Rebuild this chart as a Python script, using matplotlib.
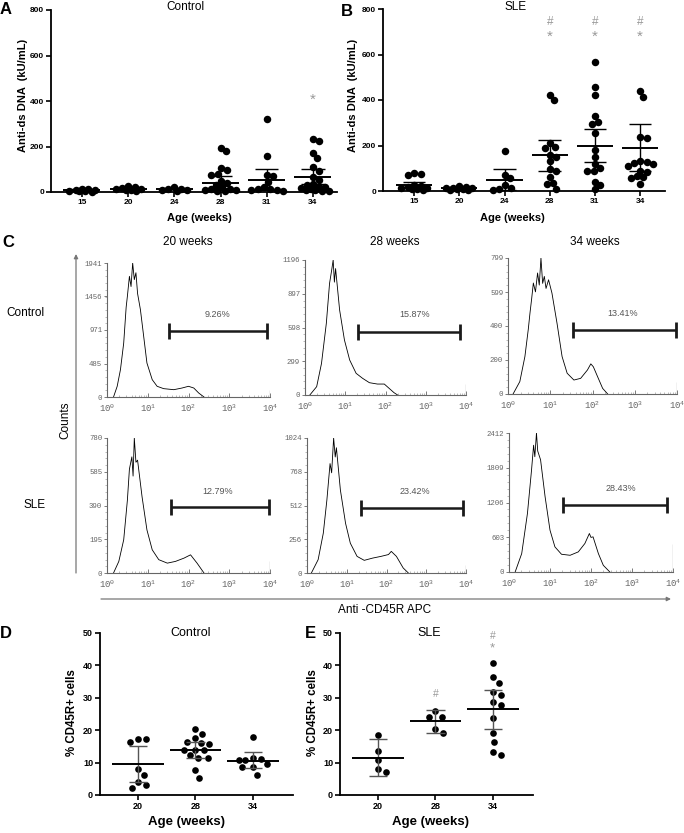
import numpy as np
import matplotlib
matplotlib.use("Agg")
import matplotlib.pyplot as plt
from matplotlib.ticker import FixedLocator, LogLocator, NullFormatter

plt.rcParams['font.family'] = ['Liberation Sans', 'DejaVu Sans']
plt.rcParams['mathtext.default'] = 'regular'

W, H = 684, 833

# ── DATA ───────────────────────────────────────────────────────────────────────
# A / B: anti-dsDNA (kU/mL) by age
ab_ages = ['15', '20', '24', '28', '31', '34']

ctrl_dna = [
    [2, 4, 6, 8, 10, 12, 14, 5],
    [28, 22, 18, 12, 8, 5, 10, 15],
    [20, 15, 10, 8, 12, 5],
    [195, 182, 104, 97, 78, 74, 50, 40, 30, 20, 15, 10, 8, 5, 12, 3],
    [320, 158, 73, 70, 45, 23, 12, 10, 8, 5, 15],
    [231, 224, 173, 151, 108, 94, 67, 53, 35, 23, 16, 12, 10, 8, 5, 20, 30, 3],
]
ctrl_dna_mean = [8, 12, 14, 41, 51, 64]
ctrl_dna_hi = [11, 16, 17, 70, 100, 100]
ctrl_dna_lo = [5, 8, 11, 15, 9, 35]

sle_dna = [
    [78, 75, 72, 20, 15, 12, 10, 8, 5, 18, 25],
    [18, 15, 12, 10, 8, 6, 5, 14, 20],
    [178, 72, 55, 25, 15, 8, 5],
    [420, 398, 210, 195, 190, 160, 150, 130, 95, 90, 60, 35, 30, 10],
    [565, 455, 420, 330, 305, 295, 255, 180, 150, 100, 90, 88, 40, 25, 10, 120],
    [440, 415, 238, 235, 130, 128, 125, 120, 110, 90, 85, 65, 60, 55, 30],
]
sle_dna_mean = [28, 12, 50, 157, 200, 190]
sle_dna_hi = [38, 16, 97, 222, 273, 293]
sle_dna_lo = [18, 8, 3, 90, 128, 88]

# C: flow histograms (log10 fluorescence, counts)
c20_logx = [0.16, 0.25, 0.33, 0.41, 0.47, 0.50, 0.55, 0.59, 0.63, 0.67, 0.71, 0.75,
            0.82, 0.90, 0.98, 1.11, 1.23, 1.39, 1.64, 1.84, 2.00, 2.13, 2.25, 2.38]
c20_counts = [0, 155, 396, 782, 1300, 1458, 1748, 1600, 1941, 1700, 1800, 1500,
              1265, 879, 492, 251, 155, 121, 106, 130, 155, 130, 58, 0]
c28_logx = [0.12, 0.29, 0.41, 0.53, 0.61, 0.66, 0.70, 0.73, 0.76, 0.86, 0.98, 1.11,
            1.27, 1.43, 1.60, 1.80, 1.97, 2.09, 2.21, 2.30]
c28_counts = [0, 74, 280, 635, 989, 1100, 1196, 1000, 1120, 753, 487, 310,
              192, 148, 109, 97, 97, 59, 21, 0]
c34_logx = [0.12, 0.28, 0.40, 0.48, 0.52, 0.56, 0.60, 0.65, 0.70, 0.74, 0.78, 0.82,
            0.86, 0.90, 0.96, 1.04, 1.16, 1.28, 1.40, 1.56, 1.72, 1.88, 1.96, 2.02,
            2.12, 2.24, 2.36]
c34_counts = [0, 73, 220, 380, 475, 560, 652, 600, 711, 640, 799, 650,
              691, 620, 671, 593, 416, 220, 122, 82, 92, 141, 177, 160,
              102, 33, 0]
s20_logx = [0.16, 0.29, 0.41, 0.50, 0.55, 0.61, 0.64, 0.67, 0.71, 0.75, 0.86, 0.98,
            1.11, 1.27, 1.48, 1.68, 1.89, 2.05, 2.21, 2.38]
s20_counts = [0, 67, 192, 420, 600, 671, 560, 780, 640, 652, 441, 249,
              134, 77, 57, 67, 86, 105, 57, 0]
s28_logx = [0.11, 0.28, 0.41, 0.50, 0.58, 0.62, 0.67, 0.71, 0.74, 0.84, 0.97, 1.09,
            1.26, 1.44, 1.65, 1.86, 2.05, 2.12, 2.25, 2.42, 2.55]
s28_counts = [0, 101, 302, 553, 830, 760, 1024, 880, 950, 629, 377, 226,
              126, 96, 113, 126, 140, 164, 126, 38, 0]
s34_logx = [0.15, 0.31, 0.45, 0.55, 0.60, 0.63, 0.67, 0.70, 0.77, 0.88, 1.00, 1.12,
            1.28, 1.49, 1.69, 1.85, 1.93, 1.96, 2.00, 2.05, 2.18, 2.30, 2.46]
s34_counts = [0, 320, 1017, 1773, 2200, 2000, 2412, 2100, 1947, 1308, 726, 436,
              308, 290, 349, 494, 620, 668, 600, 610, 320, 116, 0]

hist_yticks = [
    [0, 485, 971, 1456, 1941],
    [0, 299, 598, 897, 1196],
    [0, 200, 400, 599, 799],
    [0, 195, 390, 585, 780],
    [0, 256, 512, 768, 1024],
    [0, 603, 1206, 1809, 2412],
]
hist_end_spike = [100, 100, 69, 69, 61, 486]
gate_labels = ['9.26%', '15.87%', '13.41%', '12.79%', '23.42%', '28.43%']
gate_start = [1.52, 1.31, 1.54, 1.57, 1.35, 1.31]
gate_end = [3.92, 3.86, 3.98, 3.98, 3.92, 3.86]
gate_level = [951, 561, 377, 379, 491, 1162]
gate_label_y = [1188, 709, 475, 473, 621, 1453]
hist_weeks = ['20 weeks', '28 weeks', '34 weeks']

# D / E: % CD45R+ cells
de_ages = ['20', '28', '34']
ctrl_cd45 = [
    [17.2, 16.5, 17.3, 8.0, 6.3, 3.9, 3.2, 2.1],
    [20.3, 18.8, 17.6, 16.5, 15.9, 15.6, 14.0, 14.0, 13.9, 12.5, 11.5, 11.5, 7.8, 5.4],
    [18.0, 11.5, 11.0, 10.9, 10.8, 9.6, 8.5, 8.6, 6.3],
]
ctrl_cd45_mean = [9.5, 13.9, 10.5]
ctrl_cd45_hi = [15.0, 16.5, 13.2]
ctrl_cd45_lo = [3.9, 11.5, 8.2]

sle_cd45 = [
    [18.6, 13.6, 10.8, 7.9, 7.2],
    [25.8, 24.2, 24.0, 20.5, 19.1],
    [40.7, 36.4, 34.5, 31.8, 30.9, 28.6, 27.7, 23.7, 19.1, 16.5, 13.4, 12.4],
]
sle_cd45_mean = [11.5, 22.7, 26.5]
sle_cd45_hi = [17.2, 26.3, 32.5]
sle_cd45_lo = [6.0, 19.1, 20.4]
# ───────────────────────────────────────────────────────────────────────────────

fig = plt.figure(figsize=(W / 100, H / 100), dpi=100)


def px_axes(l, t, r, b):
    return fig.add_axes([l / W, 1 - b / H, (r - l) / W, (b - t) / H])


def swarm(vals, px_y, px_x, diam, max_w):
    """Beeswarm within +-max_w px; overlaps allowed once the band is full."""
    vals = np.asarray(vals, float)
    offs = np.zeros(len(vals))
    placed = []
    grid = np.linspace(-max_w, max_w, 41)
    for idx in np.argsort(vals)[::-1]:
        y = vals[idx] * px_y
        cands = [0.0] + list(grid)
        for (px, py) in placed:
            dy = y - py
            if abs(dy) < diam:
                dx = np.sqrt(diam ** 2 - dy ** 2)
                cands += [c for c in (px + dx, px - dx) if abs(c) <= max_w]
        cands.sort(key=abs)

        def mind(c):
            if not placed:
                return np.inf
            return min(np.hypot(c - px, y - py) for px, py in placed)

        best = None
        for c in cands:
            if mind(c) >= diam - 1e-6:
                best = c
                break
        if best is None:
            best = max(cands, key=mind)
        placed.append((best, y))
        offs[idx] = best / px_x
    return offs


def dot_panel(rect, groups, means, hi, lo, xlim, ylim, yticks, labels,
              ms, diam, max_w, mean_half, cap_half, err_color, tick_fs):
    l, t, r, b = rect
    ax = px_axes(*rect)
    px_y = (b - t) / (ylim[1] - ylim[0])
    px_x = (r - l) / (xlim[1] - xlim[0])
    for i, vals in enumerate(groups):
        offs = swarm(vals, px_y, px_x, diam, max_w)
        ax.plot(i + offs, vals, 'o', color='black', ms=ms, mew=0, clip_on=False, zorder=3)
        ax.vlines(i, lo[i], hi[i], color=err_color, lw=1.0, zorder=4)
        ax.hlines([lo[i], hi[i]], i - cap_half, i + cap_half, color=err_color, lw=1.0, zorder=4)
        ax.hlines(means[i], i - mean_half, i + mean_half, color='black', lw=1.4, zorder=4)
    ax.set_xlim(*xlim)
    ax.set_ylim(*ylim)
    ax.set_yticks(yticks)
    ax.set_xticks(range(len(labels)))
    ax.set_xticklabels(labels)
    for s in ['top', 'right']:
        ax.spines[s].set_visible(False)
    for s in ['left', 'bottom']:
        ax.spines[s].set_linewidth(1.3)
    ax.tick_params(length=3.5, width=1.2, labelsize=tick_fs, pad=1.5)
    for lab in ax.get_xticklabels() + ax.get_yticklabels():
        lab.set_fontweight('bold')
    ax.patch.set_alpha(0)
    return ax


def hist_panel(rect, logx, counts, yt, spike, g0, g1, gy, glab, gly):
    ax = px_axes(*rect)
    ax.plot(10 ** np.asarray(logx), counts, color='black', lw=0.6)
    ax.vlines(10 ** 3.995, 0, spike, color='black', lw=0.8)
    ax.plot([10 ** g0, 10 ** g1], [gy, gy], color='#1a1a1a', lw=1.8,
            solid_capstyle='butt')
    ax.plot([10 ** g0, 10 ** g1], [gy, gy], ls='none', marker='|', ms=12,
            mew=2, color='#1a1a1a')
    ax.text(10 ** 2.72, gly, glab, ha='center', va='center', fontsize=6.5,
            color='#555555')
    ax.set_xscale('log')
    ax.set_xlim(1, 1e4)
    ax.set_ylim(0, yt[-1])
    ax.yaxis.set_major_locator(FixedLocator(yt))
    ax.yaxis.set_minor_locator(FixedLocator(np.linspace(0, yt[-1], 21)))
    ax.set_yticklabels([str(v) for v in yt])
    ax.xaxis.set_major_locator(FixedLocator([1, 10, 100, 1000, 10000]))
    ax.xaxis.set_minor_locator(LogLocator(base=10, subs=np.arange(2, 10), numticks=20))
    ax.xaxis.set_minor_formatter(NullFormatter())
    ax.set_xticklabels(['10$^0$', '10$^1$', '10$^2$', '10$^3$', '10$^4$'])
    for s in ['top', 'right']:
        ax.spines[s].set_visible(False)
    for s in ['left', 'bottom']:
        ax.spines[s].set_color('#666666')
        ax.spines[s].set_linewidth(0.8)
    ax.tick_params(axis='y', which='major', length=2.5, width=0.6, color='#666666',
                   labelsize=5.3, labelcolor='#666666', pad=1)
    ax.tick_params(axis='y', which='minor', length=1.2, width=0.4, color='#888888')
    ax.tick_params(axis='x', which='major', direction='in', length=3, width=0.6,
                   color='#666666', labelsize=6.5, labelcolor='#666666', pad=4)
    ax.tick_params(axis='x', which='minor', direction='in', length=1.5, width=0.4,
                   color='#888888')
    for lab in ax.get_xticklabels() + ax.get_yticklabels():
        lab.set_family(['Liberation Mono', 'DejaVu Sans Mono'])
    ax.patch.set_alpha(0)
    return ax


# overlay axes in pixel coordinates for labels and arrows
ov = fig.add_axes([0, 0, 1, 1])
ov.set_xlim(0, W)
ov.set_ylim(H, 0)
ov.axis('off')

# ── A / B ──────────────────────────────────────────────────────────────────────
axA = dot_panel((51, 10, 337, 192), ctrl_dna, ctrl_dna_mean, ctrl_dna_hi, ctrl_dna_lo,
                (-0.67, 5.52), (0, 800), [0, 200, 400, 600, 800], ab_ages,
                ms=5.4, diam=6.5, max_w=16, mean_half=0.40, cap_half=0.25,
                err_color='black', tick_fs=6)
axA.text(5, 404, '*', ha='center', va='center', fontsize=11, color='#999999')

axB = dot_panel((383, 9, 665, 191), sle_dna, sle_dna_mean, sle_dna_hi, sle_dna_lo,
                (-0.69, 5.55), (0, 800), [0, 200, 400, 600, 800], ab_ages,
                ms=5.4, diam=6.5, max_w=16, mean_half=0.40, cap_half=0.25,
                err_color='black', tick_fs=6)
for i in [3, 4, 5]:
    axB.text(i, 745, '#', ha='center', va='center', fontsize=8.5, color='#999999')
    axB.text(i, 680, '*', ha='center', va='center', fontsize=11, color='#999999')

# ── D / E ──────────────────────────────────────────────────────────────────────
axD = dot_panel((100, 633, 293, 795), ctrl_cd45, ctrl_cd45_mean, ctrl_cd45_hi, ctrl_cd45_lo,
                (-0.66, 2.70), (0, 50), [0, 10, 20, 30, 40, 50], de_ages,
                ms=4.8, diam=8.5, max_w=14, mean_half=0.45, cap_half=0.16,
                err_color='#555555', tick_fs=6.5)
axE = dot_panel((340, 633, 533, 795), sle_cd45, sle_cd45_mean, sle_cd45_hi, sle_cd45_lo,
                (-0.66, 2.70), (0, 50), [0, 10, 20, 30, 40, 50], de_ages,
                ms=4.8, diam=8.5, max_w=14, mean_half=0.45, cap_half=0.16,
                err_color='#555555', tick_fs=6.5)
axE.text(1, 31.2, '#', ha='center', va='center', fontsize=7.5, color='#999999')
axE.text(2, 49.0, '#', ha='center', va='center', fontsize=7.5, color='#999999')
axE.text(2, 45.2, '*', ha='center', va='center', fontsize=9.5, color='#999999')

# ── C ──────────────────────────────────────────────────────────────────────────
hist_rects = [(107, 263, 270, 397), (305, 260, 466, 395), (508, 258, 677, 394),
              (107, 438, 270, 573), (307, 438, 466, 573), (509, 433, 673, 572)]
hist_x = [c20_logx, c28_logx, c34_logx, s20_logx, s28_logx, s34_logx]
hist_y = [c20_counts, c28_counts, c34_counts, s20_counts, s28_counts, s34_counts]
for k in range(6):
    hist_panel(hist_rects[k], hist_x[k], hist_y[k], hist_yticks[k], hist_end_spike[k],
               gate_start[k], gate_end[k], gate_level[k], gate_labels[k], gate_label_y[k])

# ── labels in pixel space ──────────────────────────────────────────────────────
for letter, (x, y) in zip('ABCDE', [(6, 9), (347, 11), (8, 242), (6, 633), (310, 633)]):
    ov.text(x, y, letter, ha='center', va='center', fontsize=12, fontweight='bold')

ov.text(185, 7, 'Control', ha='center', va='center', fontsize=8.5)
ov.text(516, 7, 'SLE', ha='center', va='center', fontsize=8.5)
ov.text(199, 218, 'Age (weeks)', ha='center', va='center', fontsize=8, fontweight='bold')
ov.text(512, 218, 'Age (weeks)', ha='center', va='center', fontsize=8, fontweight='bold')
ov.text(23, 95, 'Anti-ds DNA  (kU/mL)', ha='center', va='center', rotation=90,
        fontsize=8, fontweight='bold')
ov.text(353, 95, 'Anti-ds DNA  (kU/mL)', ha='center', va='center', rotation=90,
        fontsize=8, fontweight='bold')

for x, wk in zip([188, 395, 595], hist_weeks):
    ov.text(x, 242, wk, ha='center', va='center', fontsize=8.5)
ov.text(25, 313, 'Control', ha='center', va='center', fontsize=8.5)
ov.text(35, 505, 'SLE', ha='center', va='center', fontsize=8.5)
ov.text(65, 420, 'Counts', ha='center', va='center', rotation=90, fontsize=8.5)
ov.text(338, 610, 'Anti -CD45R APC', ha='left', va='center', fontsize=8.5)
ov.annotate('', xy=(76, 254), xytext=(76, 573),
            arrowprops=dict(arrowstyle='-|>', color='#777777', lw=0.9,
                            mutation_scale=6, shrinkA=0, shrinkB=0))
ov.annotate('', xy=(671, 599), xytext=(101, 599),
            arrowprops=dict(arrowstyle='-|>', color='#777777', lw=0.9,
                            mutation_scale=6, shrinkA=0, shrinkB=0))

ov.text(191, 633, 'Control', ha='center', va='center', fontsize=9)
ov.text(429, 633, 'SLE', ha='center', va='center', fontsize=9)
ov.text(186, 822, 'Age (weeks)', ha='center', va='center', fontsize=9.5, fontweight='bold')
ov.text(430, 822, 'Age (weeks)', ha='center', va='center', fontsize=9.5, fontweight='bold')
ov.text(72, 713, '% CD45R+ cells', ha='center', va='center', rotation=90,
        fontsize=8.3, fontweight='bold')
ov.text(313, 713, '% CD45R+ cells', ha='center', va='center', rotation=90,
        fontsize=8.3, fontweight='bold')

fig.savefig('out.png', dpi=100)
